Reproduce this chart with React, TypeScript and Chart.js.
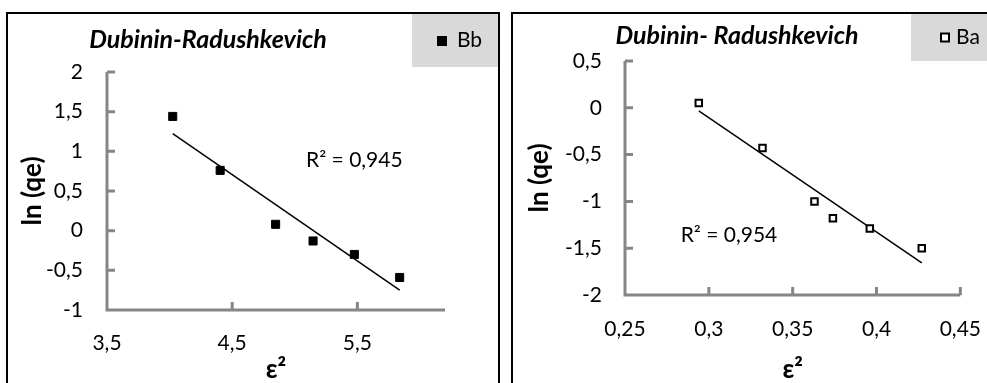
import React, { useEffect, useRef } from "react";
import { Chart, registerables } from "chart.js";

Chart.register(...registerables);

const FONT = "Lato, 'Open Sans', sans-serif";
const AXIS_COLOR = "#868686";

// ---- Left chart: Bb ----
const bbTitle = "Dubinin-Radushkevich";
const bbLegend = "Bb";
const bbX = [4.025, 4.404, 4.847, 5.146, 5.476, 5.838];
const bbY = [1.44, 0.76, 0.08, -0.13, -0.3, -0.59];
const bbXTicks = [3.5, 4.5, 5.5];
const bbYTicks = [-1, -0.5, 0, 0.5, 1, 1.5, 2];
const bbXRange = [3.5, 6.2];
const bbYRange = [-1, 2];
const bbR2 = "R² = 0,945";
const bbR2At = [5.476, 0.886];

// ---- Right chart: Ba ----
const baTitle = "Dubinin- Radushkevich";
const baLegend = "Ba";
const baX = [0.294, 0.332, 0.363, 0.374, 0.396, 0.427];
const baY = [0.05, -0.43, -1.0, -1.18, -1.29, -1.5];
const baXTicks = [0.25, 0.3, 0.35, 0.4, 0.45];
const baYTicks = [-2, -1.5, -1, -0.5, 0, 0.5];
const baXRange = [0.25, 0.45];
const baYRange = [-2, 0.5];
const baR2 = "R² = 0,954";
const baR2At = [0.312, -1.36];

const xTitle = "ε²";
const yTitle = "ln (qe)";

function fit(xs: number[], ys: number[]) {
  const n = xs.length;
  const mx = xs.reduce((a, b) => a + b, 0) / n;
  const my = ys.reduce((a, b) => a + b, 0) / n;
  let sxy = 0, sxx = 0;
  for (let i = 0; i < n; i++) {
    sxy += (xs[i] - mx) * (ys[i] - my);
    sxx += (xs[i] - mx) * (xs[i] - mx);
  }
  const slope = sxy / sxx;
  const x0 = Math.min(...xs), x1 = Math.max(...xs);
  return [
    { x: x0, y: my + slope * (x0 - mx) },
    { x: x1, y: my + slope * (x1 - mx) },
  ];
}

const fmt = (v: number) => String(v).replace(".", ",");

type Spec = {
  title: string;
  legend: string;
  xs: number[];
  ys: number[];
  xTicks: number[];
  yTicks: number[];
  xRange: number[];
  yRange: number[];
  r2: string;
  r2At: number[];
  filled: boolean;
  layout: {
    top: number;
    right: number;
    yWidth: number;
    xHeight: number;
    yPad: number;
    xPad: number;
    yTitlePad: number;
    titleX: number;
    titleY: number;
    legendBox: number[];
    legendMarker: number[];
    legendText: number[];
  };
};

function makeChart(canvas: HTMLCanvasElement, s: Spec) {
  const L = s.layout;
  const overlay = {
    id: "overlay",
    beforeDatasetsDraw(chart: any) {
      const { ctx, chartArea: ca, scales } = chart;
      const x = scales.x, y = scales.y;
      ctx.save();
      ctx.strokeStyle = AXIS_COLOR;
      ctx.lineWidth = 3;
      ctx.beginPath();
      ctx.moveTo(ca.left, ca.top);
      ctx.lineTo(ca.left, ca.bottom + 1.5);
      ctx.moveTo(ca.left - 1.5, ca.bottom);
      ctx.lineTo(ca.right, ca.bottom);
      for (const v of s.yTicks) {
        if (v === s.yRange[0]) continue;
        const py = y.getPixelForValue(v);
        ctx.moveTo(ca.left, py);
        ctx.lineTo(ca.left + 8, py);
      }
      for (const v of s.xTicks) {
        if (v === s.xRange[0]) continue;
        const px = x.getPixelForValue(v);
        ctx.moveTo(px, ca.bottom);
        ctx.lineTo(px, ca.bottom - 8);
      }
      ctx.stroke();
      ctx.restore();
    },
    afterDraw(chart: any) {
      const { ctx, scales } = chart;
      ctx.save();
      // title
      ctx.fillStyle = "#000";
      ctx.font = `italic bold 25px ${FONT}`;
      ctx.textAlign = "center";
      ctx.textBaseline = "middle";
      ctx.fillText(s.title, L.titleX, L.titleY);
      // legend
      const [bx, by, bw, bh] = L.legendBox;
      ctx.fillStyle = "#d9d9d9";
      ctx.fillRect(bx, by, bw, bh);
      const [mx, my, ms] = L.legendMarker;
      if (s.filled) {
        ctx.fillStyle = "#000";
        ctx.fillRect(mx - ms / 2, my - ms / 2, ms, ms);
      } else {
        ctx.fillStyle = "#fff";
        ctx.strokeStyle = "#000";
        ctx.lineWidth = 2;
        ctx.fillRect(mx - ms / 2 + 1, my - ms / 2 + 1, ms - 2, ms - 2);
        ctx.strokeRect(mx - ms / 2 + 1, my - ms / 2 + 1, ms - 2, ms - 2);
      }
      ctx.fillStyle = "#000";
      ctx.font = `21px ${FONT}`;
      ctx.textAlign = "left";
      ctx.fillText(s.legend, L.legendText[0], L.legendText[1]);
      // R² label
      ctx.textAlign = "center";
      ctx.fillText(
        s.r2,
        scales.x.getPixelForValue(s.r2At[0]),
        scales.y.getPixelForValue(s.r2At[1])
      );
      ctx.restore();
    },
  };

  const tickFont = { family: FONT, size: 21 };
  const titleFont = { family: FONT, size: 26, weight: "bold" as const, lineHeight: 1 };

  return new Chart(canvas, {
    type: "scatter",
    data: {
      datasets: [
        {
          label: s.legend,
          data: s.xs.map((x, i) => ({ x, y: s.ys[i] })),
          pointStyle: "rect",
          pointRadius: s.filled ? 5.7 : 4.6,
          backgroundColor: s.filled ? "#000" : "#fff",
          borderColor: "#000",
          borderWidth: s.filled ? 1 : 2,
        },
        {
          type: "line",
          label: "trend",
          data: fit(s.xs, s.ys),
          borderColor: "#000",
          borderWidth: 1.5,
          pointRadius: 0,
          showLine: true,
          fill: false,
        } as any,
      ],
    },
    options: {
      responsive: false,
      animation: false,
      layout: { padding: { left: 0, top: L.top, right: L.right, bottom: 0 } },
      plugins: {
        legend: { display: false },
        tooltip: { enabled: false },
        title: { display: false },
      },
      scales: {
        x: {
          type: "linear",
          min: s.xRange[0],
          max: s.xRange[1],
          afterBuildTicks: (sc: any) => {
            sc.ticks = s.xTicks.map((v) => ({ value: v }));
          },
          afterFit: (sc: any) => {
            sc.height = L.xHeight;
          },
          grid: { display: false, drawTicks: false },
          border: { display: false },
          ticks: {
            padding: L.xPad,
            font: tickFont,
            color: "#000",
            autoSkip: false,
            maxRotation: 0,
            callback: (v: any) => fmt(Number(v)),
          },
          title: {
            display: true,
            text: xTitle,
            font: titleFont,
            color: "#000",
            padding: { top: 0, bottom: 1 },
          },
        },
        y: {
          type: "linear",
          min: s.yRange[0],
          max: s.yRange[1],
          afterBuildTicks: (sc: any) => {
            sc.ticks = s.yTicks.map((v) => ({ value: v }));
          },
          afterFit: (sc: any) => {
            sc.width = L.yWidth;
          },
          grid: { display: false, drawTicks: false },
          border: { display: false },
          ticks: {
            padding: L.yPad,
            font: tickFont,
            color: "#000",
            autoSkip: false,
            callback: (v: any) => fmt(Number(v)),
          },
          title: {
            display: true,
            text: yTitle,
            font: titleFont,
            color: "#000",
            padding: { top: L.yTitlePad, bottom: 0 },
          },
        },
      },
    },
    plugins: [overlay],
  });
}

const leftSpec: Spec = {
  title: bbTitle,
  legend: bbLegend,
  xs: bbX,
  ys: bbY,
  xTicks: bbXTicks,
  yTicks: bbYTicks,
  xRange: bbXRange,
  yRange: bbYRange,
  r2: bbR2,
  r2At: bbR2At,
  filled: true,
  layout: {
    top: 58,
    right: 53,
    yWidth: 99,
    xHeight: 74,
    yPad: 24,
    xPad: 21,
    yTitlePad: 12,
    titleX: 200,
    titleY: 26,
    legendBox: [404, 0, 86, 53],
    legendMarker: [434, 27, 10],
    legendText: [449, 26],
  },
};

const rightSpec: Spec = {
  title: baTitle,
  legend: baLegend,
  xs: baX,
  ys: baY,
  xTicks: baXTicks,
  yTicks: baYTicks,
  xRange: baXRange,
  yRange: baYRange,
  r2: baR2,
  r2At: baR2At,
  filled: false,
  layout: {
    top: 47,
    right: 36.5,
    yWidth: 112,
    xHeight: 89,
    yPad: 23,
    xPad: 22,
    yTitlePad: 14,
    titleX: 224,
    titleY: 22,
    legendBox: [398, 0, 100, 47],
    legendMarker: [432, 23.5, 10],
    legendText: [443, 23],
  },
};

function Panel({ spec, left }: { spec: Spec; left: number }) {
  const ref = useRef<HTMLCanvasElement>(null);
  useEffect(() => {
    if (!ref.current) return;
    const c = makeChart(ref.current, spec);
    return () => c.destroy();
  }, [spec]);
  return (
    <div
      style={{
        position: "absolute",
        left,
        top: 12,
        width: 494,
        height: 400,
        border: "2px solid #000",
        boxSizing: "border-box",
        background: "#fff",
      }}
    >
      <canvas
        ref={ref}
        width={490}
        height={370}
        style={{ position: "absolute", left: 0, top: 0, width: 490, height: 370 }}
      />
    </div>
  );
}

export default function App() {
  return (
    <div
      style={{
        position: "fixed",
        left: 0,
        top: 0,
        width: 987,
        height: 383,
        overflow: "hidden",
        background: "#fff",
      }}
    >
      <Panel spec={leftSpec} left={6} />
      <Panel spec={rightSpec} left={511} />
    </div>
  );
}
